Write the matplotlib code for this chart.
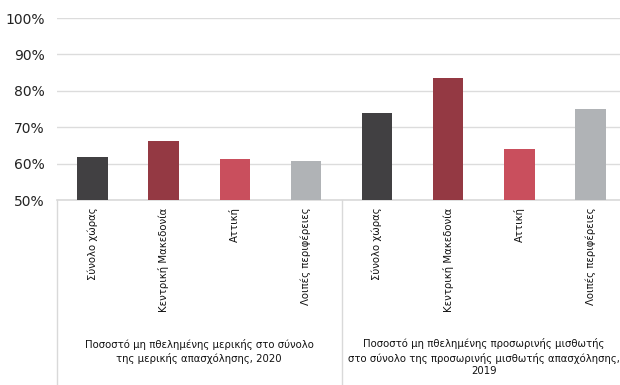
import matplotlib
matplotlib.use("Agg")
import matplotlib.pyplot as plt
from matplotlib.lines import Line2D

categories = ["Σύνολο χώρας", "Κεντρική Μακεδονία", "Αττική", "Λοιπές περιφέρειες"]
groups = ["Ποσοστό μη πθελημένης μερικής στο σύνολο\nτης μερικής απασχόλησης, 2020",
          "Ποσοστό μη πθελημένης προσωρινής μισθωτής\nστο σύνολο της προσωρινής μισθωτής απασχόλησης,\n2019"]
values_2020 = [61.9, 66.3, 61.4, 60.6]
values_2019 = [73.8, 83.6, 63.9, 75.1]
yticks = [50, 60, 70, 80, 90, 100]
colors = ["#414042", "#943943", "#c94f5d", "#b0b3b6"]

plt.rcParams['font.family'] = ['DejaVu Sans']

fig = plt.figure(figsize=(6.2, 3.85), dpi=100)
ax = fig.add_axes([57/620, 185/385, 569/620, 182/385])

vals = values_2020 + values_2019
x = list(range(len(vals)))
ax.bar(x, [v - 50 for v in vals], bottom=50, width=0.43,
       color=colors * 2, zorder=3)
ax.set_xlim(-0.5, len(vals) - 0.5)
ax.set_ylim(50, 100)
ax.set_yticks(yticks)
ax.set_yticklabels([f"{t}%" for t in yticks], fontsize=10, color="#222222")
ax.yaxis.grid(True, color="#dcdcdc", linewidth=1, zorder=0)
ax.tick_params(axis='y', length=0, pad=9)
ax.set_xticks([])
for s in ["top", "right", "left"]:
    ax.spines[s].set_visible(False)
ax.spines["bottom"].set_color("#d9d9d9")
ax.spines["bottom"].set_linewidth(1.2)

tr = ax.get_xaxis_transform()
for i, v in enumerate(vals):
    ax.text(i, -0.04, categories[i % 4], rotation=90, ha='center', va='top',
            fontsize=7.3, transform=tr, color="#111111")

# group separators
for xs in [-0.5, 3.5]:
    ax.add_line(Line2D([xs, xs], [0, -1.1], transform=tr, color="#d9d9d9",
                       linewidth=1, clip_on=False))

ax.text(1.5, -0.832, groups[0], ha='center', va='center', fontsize=7.3,
        transform=tr, color="#111111", linespacing=1.35)
ax.text(5.5, -0.865, groups[1], ha='center', va='center', fontsize=7.3,
        transform=tr, color="#111111", linespacing=1.35)

fig.savefig("out.png", dpi=100)
